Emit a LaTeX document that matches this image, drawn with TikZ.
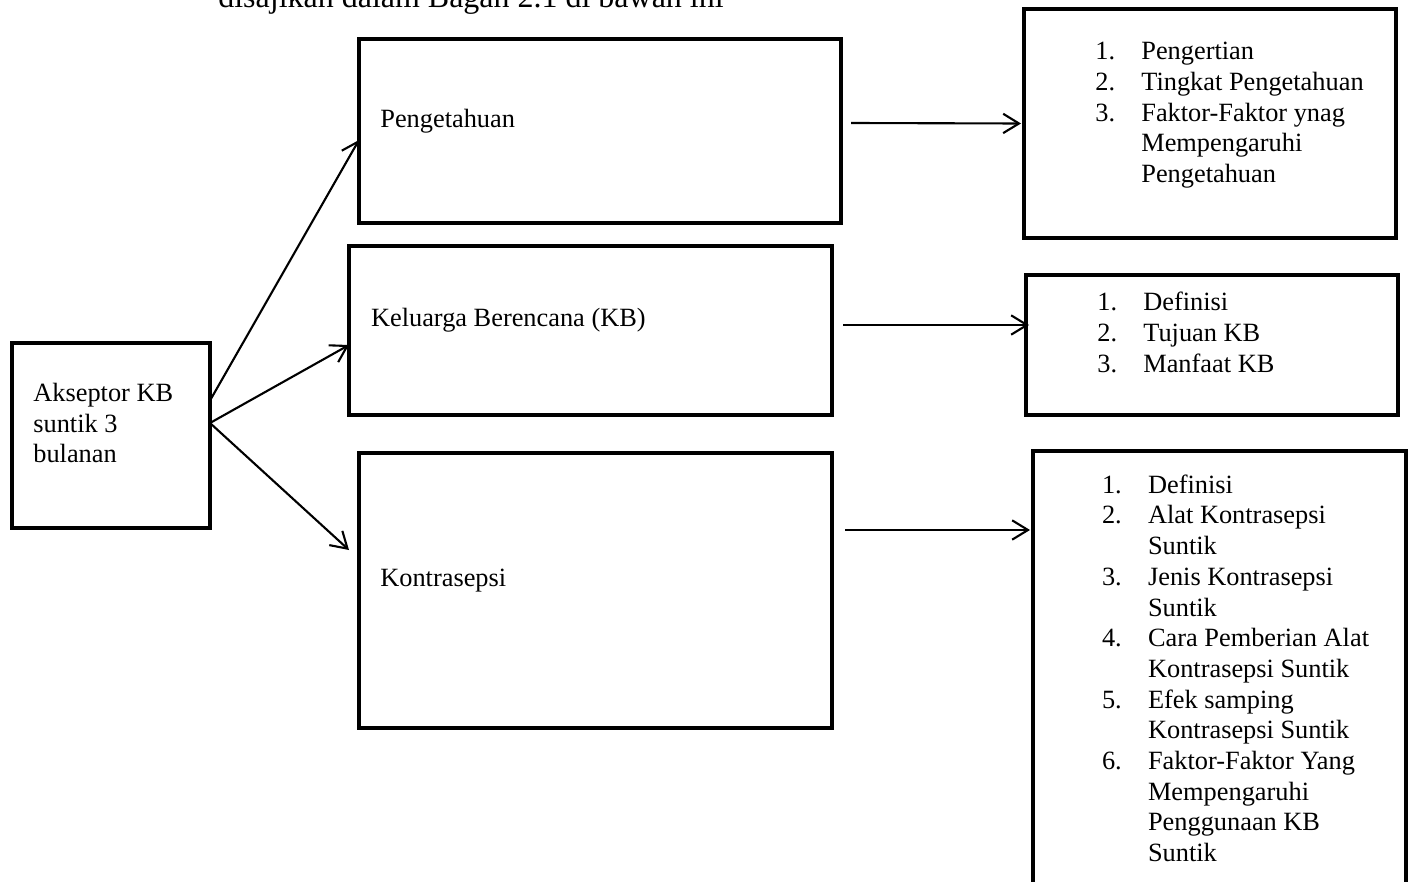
\documentclass[tikz,border=0pt]{standalone}
\usepackage{fontspec}
\setmainfont{Liberation Serif}
\usetikzlibrary{arrows.meta}
\newlength\pxu
\setlength\pxu{0.02cm}
\newcommand\itm[1]{\makebox[46\pxu][l]{#1}}
\begin{document}
\begin{tikzpicture}[x=0.02cm,y=-0.02cm,
  box/.style={draw,line width=2.7pt,inner sep=0pt,outer sep=0pt,anchor=north west},
  lbl/.style={anchor=base west,inner sep=0pt,font=\fontsize{15}{17.4}\selectfont},
  arr/.style={line width=1.2pt,-{Straight Barb[length=9pt,width=11pt,line width=1.2pt]}}]
\useasboundingbox (0,0) rectangle (1413,882);
\clip (0,0) rectangle (1413,882);
\node[anchor=base west,inner sep=0pt,font=\fontsize{18.2}{20}\selectfont] (top) at (218,8) {disajikan dalam Bagan 2.1 di bawah ini};
% boxes
\node[box,minimum width=198\pxu,minimum height=185\pxu] (ak) at (12,343) {};
\node[box,minimum width=482\pxu,minimum height=184\pxu] (pe) at (359,39) {};
\node[box,minimum width=483\pxu,minimum height=169\pxu] (kb) at (349,246) {};
\node[box,minimum width=473\pxu,minimum height=275\pxu] (ko) at (359,453) {};
\node[box,minimum width=372\pxu,minimum height=229\pxu] (r1) at (1024,9) {};
\node[box,minimum width=372\pxu,minimum height=140\pxu] (r2) at (1026,275) {};
\node[box,minimum width=373\pxu,minimum height=480\pxu] (r3) at (1033,451) {};
% texts
\node[lbl] (akt) at (33,401.5) {\begin{tabular}[t]{@{}l@{}}Akseptor KB\\suntik 3\\bulanan\end{tabular}};
\node[lbl] (pet) at (380,127.3) {Pengetahuan};
\node[lbl] (kbt) at (370.7,326.7) {Keluarga Berencana (KB)};
\node[lbl] (kot) at (380,586) {Kontrasepsi};
\node[lbl] (r1t) at (1095,60) {\begin{tabular}[t]{@{}l@{}}
\itm{1.}Pengertian\\
\itm{2.}Tingkat Pengetahuan\\
\itm{3.}Faktor-Faktor ynag\\
\itm{}Mempengaruhi\\
\itm{}Pengetahuan\end{tabular}};
\node[lbl,font=\fontsize{15}{17.8}\selectfont] (r2t) at (1097,310) {\begin{tabular}[t]{@{}l@{}}
\itm{1.}Definisi\\
\itm{2.}Tujuan KB\\
\itm{3.}Manfaat KB\end{tabular}};
\node[lbl,font=\fontsize{15}{17.46}\selectfont] (r3t) at (1101.7,493.3) {\begin{tabular}[t]{@{}l@{}}
\itm{1.}Definisi\\
\itm{2.}Alat Kontrasepsi\\
\itm{}Suntik\\
\itm{3.}Jenis Kontrasepsi\\
\itm{}Suntik\\
\itm{4.}Cara Pemberian Alat\\
\itm{}Kontrasepsi Suntik\\
\itm{5.}Efek samping\\
\itm{}Kontrasepsi Suntik\\
\itm{6.}Faktor-Faktor Yang\\
\itm{}Mempengaruhi\\
\itm{}Penggunaan KB\\
\itm{}Suntik\end{tabular}};
% connectors
\draw[arr] ([yshift=35\pxu]ak.east) -- ([yshift=-9\pxu]pe.west);
\draw[arr] ([yshift=12.5\pxu]ak.east) -- ([yshift=-14.5\pxu]kb.west);
\draw[arr] ([yshift=12.5\pxu]ak.east) -- ([xshift=-10\pxu,yshift=40.5\pxu]ko.west);
\draw[arr] ([xshift=10\pxu,yshift=8\pxu]pe.east) -- ([xshift=-3\pxu]r1.west);
\draw[arr] ([xshift=11\pxu,yshift=5.5\pxu]kb.east) -- ([xshift=3\pxu,yshift=20\pxu]r2.west);
\draw[arr] ([xshift=13\pxu,yshift=-77\pxu]ko.north east) -- ([xshift=-3\pxu,yshift=-79\pxu]r3.north west);
\end{tikzpicture}
\end{document}
